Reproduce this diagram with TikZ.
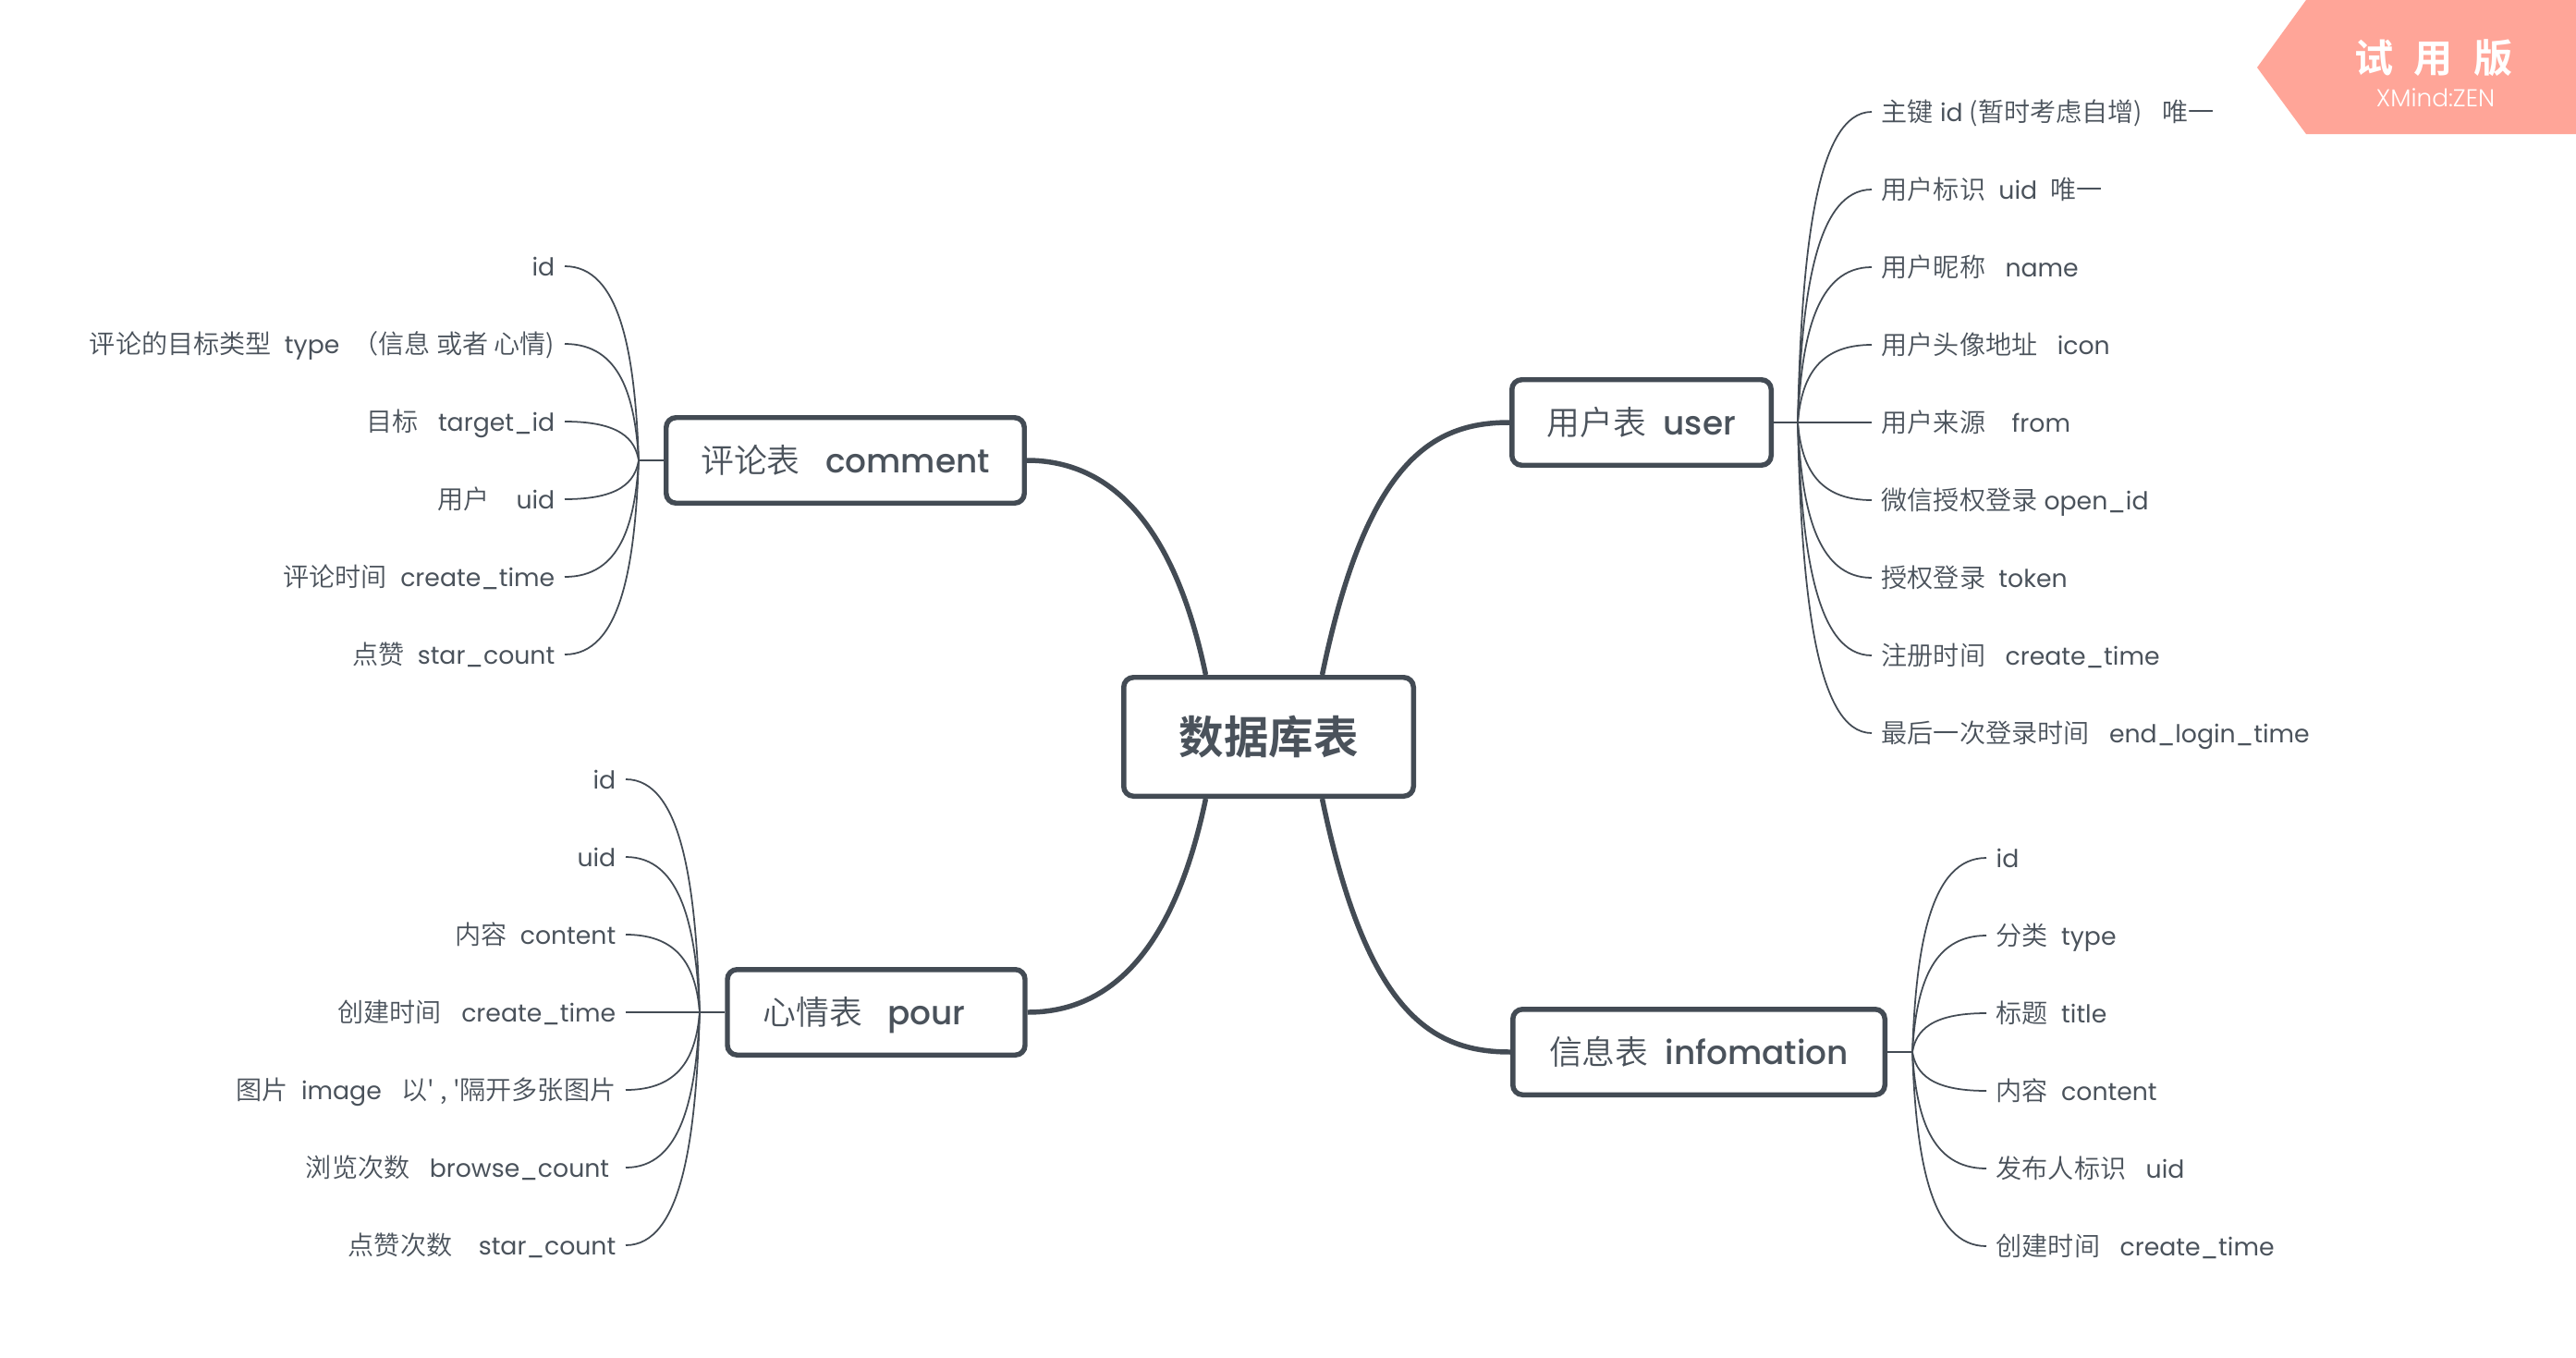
\documentclass[tikz,border=0pt]{standalone}
\usepackage{fontspec}
\setmainfont{Poppins}[Scale=0.95, BoldFont={Poppins Medium}]
\newfontfamily\cjk{Noto Sans CJK SC DemiLight}[BoldFont={Noto Sans CJK SC Bold}]
\newfontfamily\subfont{Poppins Light}[Scale=0.95]
\newcommand{\zh}[1]{{\cjk #1}}
\newcommand{\tname}[1]{{\fontsize{10.75}{12}\selectfont\bfseries #1}}
\definecolor{linegray}{RGB}{67, 75, 84}
\definecolor{textgray}{RGB}{74, 82, 91}
\definecolor{badgepink}{RGB}{255, 165, 152}
\usetikzlibrary{calc}
\tikzset{
  bigbox/.style={draw=linegray, fill=white, line width=1.56pt, rounded corners=3pt, text=textgray, align=center, inner sep=0pt, minimum height=0.925cm, text height=3.3mm, text depth=0.56mm, font=\fontsize{10.2}{12}\selectfont},
  trunk/.style={draw=linegray, line width=1.56pt},
  stub/.style={draw=linegray, line width=0.8pt},
  twig/.style={draw=linegray, line width=0.5pt},
  leafr/.style={anchor=west, text=textgray, inner xsep=0.1cm, inner ysep=0pt, text height=2.6mm, text depth=0.5mm, font=\fontsize{8}{10}\selectfont},
  leafl/.style={leafr, anchor=east, inner xsep=0.1cm},
}

\begin{document}
\begin{tikzpicture}
  \useasboundingbox (0,0) rectangle (27.87,-14.69);

  % Main boxes
  \node[bigbox, minimum width=3.135cm, minimum height=1.285cm, text height=4.4mm, text depth=0.72mm, font=\fontsize{13.8}{16}\selectfont\bfseries\cjk] (root) at (13.725,-7.97) {数据库表};
  \node[bigbox, minimum width=2.805cm] (user) at (17.76,-4.57) {\zh{用户表}~~\tname{user}};
  \node[bigbox, minimum width=3.875cm] (comment) at (9.145,-4.98) {\zh{评论表}~~~\tname{comment}};
  \node[bigbox, minimum width=3.22cm] (pour) at (9.48,-10.95) {\zh{心情表}~~~\tname{pour}\hspace{0.26cm}};
  \node[bigbox, minimum width=4.025cm] (info) at (18.38,-11.38) {\zh{信息表}~~\tname{infomation}};

  % Root to boxes
  \draw[trunk] ($(root.north)+(0.58,0)$) .. controls +(0.48,2.32) and +(-0.83,0) .. (user.west);
  \draw[trunk] ($(root.north)+(-0.68,0)$) .. controls +(-0.40,1.92) and +(0.69,0) .. (comment.east);
  \draw[trunk] ($(root.south)+(-0.68,0)$) .. controls +(-0.40,-1.92) and +(0.69,0) .. (pour.east);
  \draw[trunk] ($(root.south)+(0.58,0)$) .. controls +(0.48,-2.32) and +(-0.85,0) .. (info.west);

  % Forks
  \coordinate (userfork) at (19.45,-4.57);
  \coordinate (commentfork) at (6.91,-4.98);
  \coordinate (pourfork) at (7.57,-10.95);
  \coordinate (infofork) at (20.69,-11.38);
  \draw[stub] (user.east) -- (userfork);
  \draw[stub] (comment.west) -- (commentfork);
  \draw[stub] (pour.west) -- (pourfork);
  \draw[stub] (info.east) -- (infofork);

  % User fields
  \node[leafr] (u1) at (20.25,-1.21) {\zh{主键} id \zh{(暂时考虑自增)}~~~\zh{唯一}};
  \node[leafr] (u2) at (20.25,-2.05) {\zh{用户标识}~~uid~~\zh{唯一}};
  \node[leafr] (u3) at (20.25,-2.89) {\zh{用户昵称}~~~name};
  \node[leafr] (u4) at (20.25,-3.73) {\zh{用户头像地址}~~~icon};
  \node[leafr] (u5) at (20.25,-4.57) {\zh{用户来源}~~~~from};
  \node[leafr] (u6) at (20.25,-5.41) {\zh{微信授权登录} open\_id};
  \node[leafr] (u7) at (20.25,-6.25) {\zh{授权登录}~~token};
  \node[leafr] (u8) at (20.25,-7.09) {\zh{注册时间}~~~create\_time};
  \node[leafr] (u9) at (20.25,-7.93) {\zh{最后一次登录时间}~~~end\_login\_time};
  \draw[twig] (userfork) .. controls +(0.04,1.85) and +(-0.6,0) .. (u1.west);
  \draw[twig] (userfork) .. controls +(0.04,1.39) and +(-0.6,0) .. (u2.west);
  \draw[twig] (userfork) .. controls +(0.04,0.92) and +(-0.6,0) .. (u3.west);
  \draw[twig] (userfork) .. controls +(0.04,0.46) and +(-0.6,0) .. (u4.west);
  \draw[twig] (userfork) -- (u5.west);
  \draw[twig] (userfork) .. controls +(0.04,-0.46) and +(-0.6,0) .. (u6.west);
  \draw[twig] (userfork) .. controls +(0.04,-0.92) and +(-0.6,0) .. (u7.west);
  \draw[twig] (userfork) .. controls +(0.04,-1.39) and +(-0.6,0) .. (u8.west);
  \draw[twig] (userfork) .. controls +(0.04,-1.85) and +(-0.6,0) .. (u9.west);

  % Comment fields
  \node[leafl] (c1) at (6.11,-2.88) {id};
  \node[leafl] (c2) at (6.11,-3.72) {\zh{评论的目标类型}~~type~~\zh{（信息 或者 心情)}};
  \node[leafl] (c3) at (6.11,-4.56) {\zh{目标}~~~target\_id};
  \node[leafl] (c4) at (6.11,-5.40) {\zh{用户}~~~~uid};
  \node[leafl] (c5) at (6.11,-6.24) {\zh{评论时间}~~create\_time};
  \node[leafl] (c6) at (6.11,-7.08) {\zh{点赞}~~star\_count};
  \draw[twig] (commentfork) .. controls +(-0.04,1.16) and +(0.6,0) .. (c1.east);
  \draw[twig] (commentfork) .. controls +(-0.04,0.69) and +(0.6,0) .. (c2.east);
  \draw[twig] (commentfork) .. controls +(-0.04,0.23) and +(0.6,0) .. (c3.east);
  \draw[twig] (commentfork) .. controls +(-0.04,-0.23) and +(0.6,0) .. (c4.east);
  \draw[twig] (commentfork) .. controls +(-0.04,-0.69) and +(0.6,0) .. (c5.east);
  \draw[twig] (commentfork) .. controls +(-0.04,-1.16) and +(0.6,0) .. (c6.east);

  % Pour fields
  \node[leafl] (p1) at (6.77,-8.43) {id};
  \node[leafl] (p2) at (6.77,-9.27) {uid};
  \node[leafl] (p3) at (6.77,-10.11) {\zh{内容}~~content};
  \node[leafl] (p4) at (6.77,-10.95) {\zh{创建时间}~~~create\_time};
  \node[leafl] (p5) at (6.77,-11.79) {\zh{图片}~~image~~~\zh{以' , '隔开多张图片}};
  \node[leafl] (p6) at (6.77,-12.63) {\zh{浏览次数}~~~browse\_count~\mbox{}};
  \node[leafl] (p7) at (6.77,-13.47) {\zh{点赞次数}~~~~star\_count};
  \draw[twig] (pourfork) .. controls +(-0.04,1.39) and +(0.6,0) .. (p1.east);
  \draw[twig] (pourfork) .. controls +(-0.04,0.92) and +(0.6,0) .. (p2.east);
  \draw[twig] (pourfork) .. controls +(-0.04,0.46) and +(0.6,0) .. (p3.east);
  \draw[twig] (pourfork) -- (p4.east);
  \draw[twig] (pourfork) .. controls +(-0.04,-0.46) and +(0.6,0) .. (p5.east);
  \draw[twig] (pourfork) .. controls +(-0.04,-0.92) and +(0.6,0) .. (p6.east);
  \draw[twig] (pourfork) .. controls +(-0.04,-1.39) and +(0.6,0) .. (p7.east);

  % Infomation fields
  \node[leafr] (i1) at (21.49,-9.28) {id};
  \node[leafr] (i2) at (21.49,-10.12) {\zh{分类}~~type};
  \node[leafr] (i3) at (21.49,-10.96) {\zh{标题}~~title};
  \node[leafr] (i4) at (21.49,-11.80) {\zh{内容}~~content};
  \node[leafr] (i5) at (21.49,-12.64) {\zh{发布人标识}~~~uid};
  \node[leafr] (i6) at (21.49,-13.48) {\zh{创建时间}~~~create\_time};
  \draw[twig] (infofork) .. controls +(0.04,1.16) and +(-0.6,0) .. (i1.west);
  \draw[twig] (infofork) .. controls +(0.04,0.69) and +(-0.6,0) .. (i2.west);
  \draw[twig] (infofork) .. controls +(0.04,0.23) and +(-0.6,0) .. (i3.west);
  \draw[twig] (infofork) .. controls +(0.04,-0.23) and +(-0.6,0) .. (i4.west);
  \draw[twig] (infofork) .. controls +(0.04,-0.69) and +(-0.6,0) .. (i5.west);
  \draw[twig] (infofork) .. controls +(0.04,-1.16) and +(-0.6,0) .. (i6.west);

  % Trial badge
  \fill[badgepink] (24.42,-0.73) -- (24.95,0) -- (27.87,0) -- (27.87,-1.45) -- (24.95,-1.45) -- cycle;
  \node[text=white, inner sep=0pt, font=\fontsize{12}{13}\selectfont\bfseries\cjk] (badge) at (26.33,-0.63) {试\hspace{0.22cm}用\hspace{0.22cm}版};
  \node[text=white, inner sep=0pt, font=\fontsize{7.9}{9}\selectfont\subfont] (badgesub) at (26.35,-1.06) {XMind:ZEN};
\end{tikzpicture}
\end{document}
